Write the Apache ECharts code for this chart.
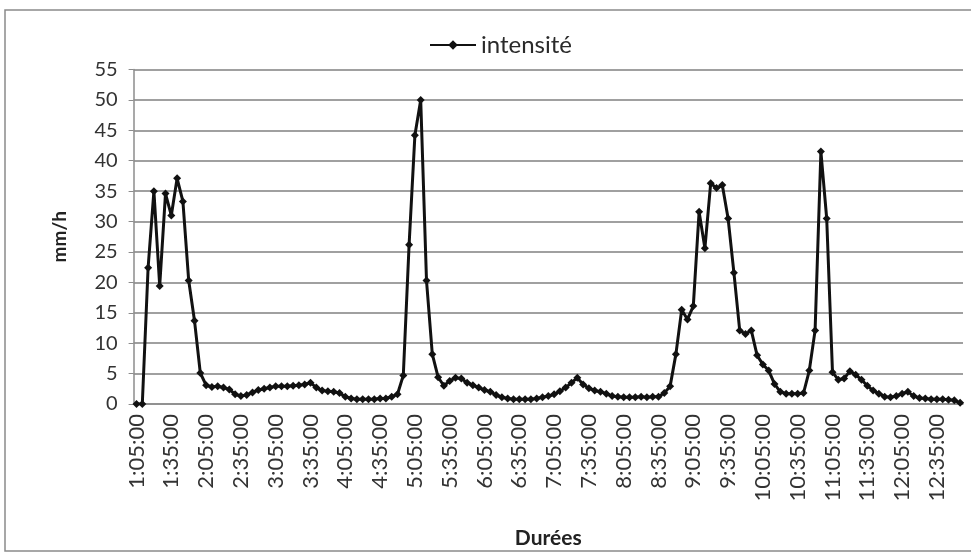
<!DOCTYPE html>
<html>
<head>
<meta charset="utf-8">
<script src="https://cdn.jsdelivr.net/npm/echarts@6/dist/echarts.min.js"></script>
<style>
  html, body { margin: 0; padding: 0; background: #fff; }
  #chart { width: 971px; height: 554px; }
</style>
</head>
<body>
<div id="chart"></div>
<script>
// Durées : un pas de 5 minutes à partir de 1:05:00
const startMinutes = 65;
const stepMinutes = 5;
const pointCount = 143;

// intensité (mm/h)
const intensite = [
    0, 0, 22.4, 35, 19.4, 34.6, 31, 37.1, 33.3, 20.3,
    13.7, 5.1, 3.1, 2.8, 2.9, 2.7, 2.4, 1.6, 1.3, 1.5,
    1.9, 2.3, 2.5, 2.7, 2.9, 2.9, 2.9, 3.0, 3.1, 3.2,
    3.5, 2.7, 2.2, 2.1, 2.0, 1.8, 1.2, 0.9, 0.8, 0.8,
    0.8, 0.8, 0.9, 0.9, 1.2, 1.6, 4.7, 26.2, 44.2, 50,
    20.3, 8.2, 4.4, 3.0, 3.8, 4.3, 4.2, 3.5, 3.1, 2.7,
    2.3, 2.0, 1.5, 1.1, 0.9, 0.8, 0.8, 0.8, 0.8, 0.9,
    1.1, 1.3, 1.6, 2.1, 2.7, 3.5, 4.3, 3.2, 2.6, 2.2,
    2.0, 1.7, 1.3, 1.2, 1.1, 1.1, 1.1, 1.2, 1.1, 1.2,
    1.2, 1.8, 2.9, 8.2, 15.5, 13.9, 16.1, 31.6, 25.6, 36.3,
    35.5, 36, 30.5, 21.6, 12.1, 11.5, 12.1, 8.0, 6.5, 5.5,
    3.3, 2.0, 1.7, 1.7, 1.7, 1.8, 5.5, 12.1, 41.5, 30.5,
    5.2, 4.0, 4.2, 5.4, 4.8, 4.0, 3.0, 2.2, 1.7, 1.2,
    1.1, 1.3, 1.7, 2.0, 1.3, 1.0, 0.9, 0.8, 0.8, 0.8,
    0.7, 0.6, 0.2
];

// graduations de l'axe des y
const yMin = 0;
const yMax = 55;
const yStep = 5;

function fmtDuree(min) {
    const h = Math.floor(min / 60);
    const m = min % 60;
    return h + ':' + String(m).padStart(2, '0') + ':00';
}

const durees = [];
for (let i = 0; i < pointCount; i++) durees.push(fmtDuree(startMinutes + i * stepMinutes));

const chart = echarts.init(document.getElementById('chart'));

chart.setOption({
    backgroundColor: '#fff',
    animation: false,
    graphic: [{
        type: 'rect',
        shape: { x: 5, y: 10, width: 980, height: 541 },
        style: { fill: 'none', stroke: '#8a8a8a', lineWidth: 1.5 },
        silent: true
    }],
    legend: {
        data: ['intensité'],
        left: 424,
        top: 28,
        itemWidth: 46,
        itemHeight: 12,
        itemGap: 4,
        textStyle: { fontFamily: 'Lato', fontSize: 24, color: '#2a2a2a' }
    },
    grid: { left: 133.6, right: 8, top: 69.5, bottom: 147, containLabel: false },
    xAxis: {
        type: 'category',
        data: durees,
        boundaryGap: true,
        name: 'Durées',
        nameLocation: 'middle',
        nameGap: 124,
        nameTextStyle: { fontFamily: 'Lato', fontSize: 21, fontWeight: 'bold', color: '#222' },
        axisLine: { lineStyle: { color: '#8c8c8c', width: 1.5 } },
        axisTick: { show: false },
        axisLabel: {
            interval: 5,
            rotate: 90,
            margin: 10,
            fontFamily: 'Lato',
            fontSize: 22,
            color: '#333'
        },
        splitLine: { show: false }
    },
    yAxis: {
        type: 'value',
        min: yMin,
        max: yMax,
        interval: yStep,
        name: 'mm/h',
        nameLocation: 'middle',
        nameGap: 64,
        nameRotate: 90,
        nameTextStyle: { fontFamily: 'Lato', fontSize: 19, fontWeight: 'bold', color: '#222' },
        axisLine: { show: true, lineStyle: { color: '#8c8c8c', width: 1.5 } },
        axisTick: { show: true, length: 5, lineStyle: { color: '#8c8c8c' } },
        axisLabel: { margin: 16, fontFamily: 'Lato', fontSize: 20, color: '#333' },
        splitLine: { lineStyle: { color: '#a0a0a0', width: 2 } }
    },
    series: [{
        name: 'intensité',
        type: 'line',
        data: intensite,
        symbol: 'diamond',
        symbolSize: 8,
        showAllSymbol: true,
        lineStyle: { color: '#111', width: 3 },
        itemStyle: { color: '#111' }
    }]
});
</script>
</body>
</html>
